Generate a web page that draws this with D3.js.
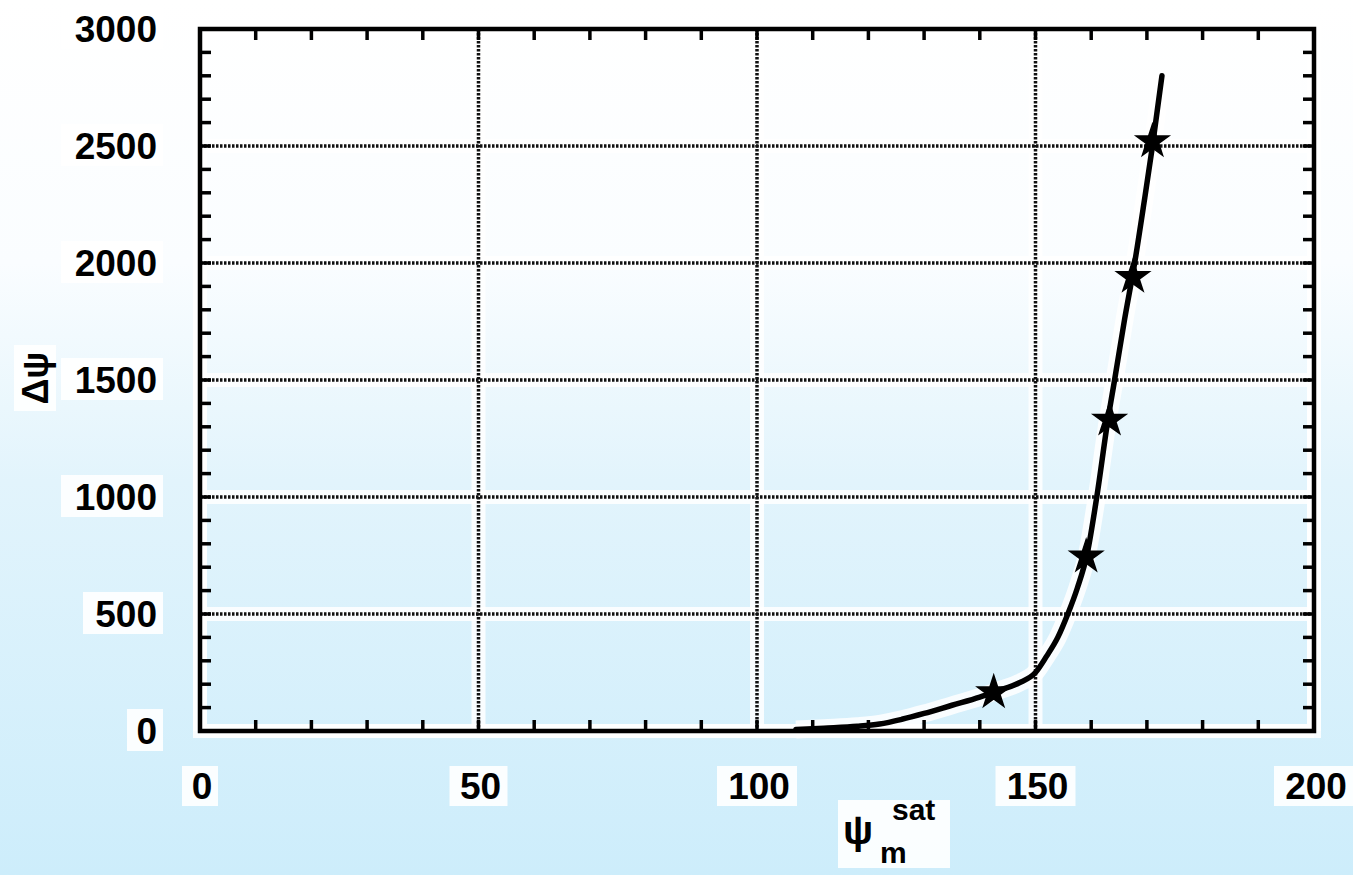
<!DOCTYPE html>
<html>
<head>
<meta charset="utf-8">
<script src="https://cdn.jsdelivr.net/npm/d3@7"></script>
<style>
  html, body { margin: 0; padding: 0; background: #fff; }
</style>
</head>
<body>
<script>
// curve
const curveX = [107, 112, 118, 122, 126, 130, 135, 140, 143, 147, 150, 152, 154, 155.8, 157.5, 159.3, 161, 163, 164.2, 166, 167.8, 169.5, 171, 172.7]
const curveY = [6, 12, 20, 30, 50, 75, 110, 145, 170, 205, 250, 320, 400, 500, 610, 760, 1000, 1330, 1500, 1760, 2000, 2260, 2500, 2800]

// star markers on the curve
const markX = [142.5, 159.1, 163.3, 167.5, 171]
const markY = [165, 745, 1330, 1940, 2520]

const xTicks = [0, 50, 100, 150, 200]
const yTicks = [0, 500, 1000, 1500, 2000, 2500, 3000]

const W = 1353, H = 875
const pLeft = 200, pRight = 1314, pTop = 29, pBottom = 731

const svg = d3.create('svg')
  .attr('width', W)
  .attr('height', H)
  .style('display', 'block')

const defs = svg.append('defs')
const grad = defs.append('linearGradient')
  .attr('id', 'bg')
  .attr('x1', 0).attr('y1', 0).attr('x2', 0).attr('y2', 1)
grad.append('stop').attr('offset', '0%').attr('stop-color', '#ffffff')
grad.append('stop').attr('offset', '30%').attr('stop-color', '#fafdff')
grad.append('stop').attr('offset', '55%').attr('stop-color', '#e2f4fc')
grad.append('stop').attr('offset', '100%').attr('stop-color', '#cdedfb')

svg.append('rect').attr('width', W).attr('height', H).attr('fill', 'url(#bg)')

const x = d3.scaleLinear().domain([0, 200]).range([pLeft, pRight])
const y = d3.scaleLinear().domain([0, 3000]).range([pBottom, pTop])

const font = '"Liberation Sans", Arial, sans-serif'
const pts = curveX.map((v, i) => [v, curveY[i]])
const line = d3.line().x(d => x(d[0])).y(d => y(d[1])).curve(d3.curveMonotoneX)

// white halos the scan leaves round the ink
const halo = svg.append('g').attr('stroke', 'rgba(255,255,255,0.85)').attr('stroke-width', 14).attr('fill', 'none')
xTicks.forEach(v => halo.append('line').attr('x1', x(v)).attr('x2', x(v)).attr('y1', pTop).attr('y2', pBottom))
yTicks.forEach(v => halo.append('line').attr('x1', pLeft).attr('x2', pRight).attr('y1', y(v)).attr('y2', y(v)))
halo.append('rect').attr('x', pLeft).attr('y', pTop).attr('width', pRight - pLeft).attr('height', pBottom - pTop)
halo.append('path').datum(pts).attr('d', line).attr('stroke-width', 18)

// dotted grid
const grid = svg.append('g').attr('stroke', '#111').attr('stroke-width', 3.5).attr('stroke-dasharray', '2.5,1.5')
xTicks.slice(1, -1).forEach(v => grid.append('line').attr('x1', x(v)).attr('x2', x(v)).attr('y1', pTop).attr('y2', pBottom))
yTicks.slice(1, -1).forEach(v => grid.append('line').attr('x1', pLeft).attr('x2', pRight).attr('y1', y(v)).attr('y2', y(v)))

// minor ticks, inward on all four sides
const tk = svg.append('g').attr('stroke', '#000').attr('stroke-width', 3.5)
d3.range(10, 200, 10).forEach(v => {
  tk.append('line').attr('x1', x(v)).attr('x2', x(v)).attr('y1', pBottom).attr('y2', pBottom - 11)
  tk.append('line').attr('x1', x(v)).attr('x2', x(v)).attr('y1', pTop).attr('y2', pTop + 11)
})
d3.range(100, 3000, 100).forEach(v => {
  tk.append('line').attr('x1', pLeft).attr('x2', pLeft + 11).attr('y1', y(v)).attr('y2', y(v))
  tk.append('line').attr('x1', pRight).attr('x2', pRight - 11).attr('y1', y(v)).attr('y2', y(v))
})

// frame
svg.append('rect')
  .attr('x', pLeft).attr('y', pTop)
  .attr('width', pRight - pLeft).attr('height', pBottom - pTop)
  .attr('fill', 'none').attr('stroke', '#000').attr('stroke-width', 4.5)

// curve
svg.append('path').datum(pts)
  .attr('d', line)
  .attr('fill', 'none').attr('stroke', '#000').attr('stroke-width', 5.5).attr('stroke-linecap', 'round')

svg.append('g').selectAll('path')
  .data(markX.map((v, i) => [v, markY[i]]))
  .join('path')
  .attr('transform', d => `translate(${x(d[0])},${y(d[1])})`)
  .attr('d', d3.symbol(d3.symbolStar, 330))
  .attr('fill', '#000')
  .attr('stroke', '#000')
  .attr('stroke-width', 1.5)

// tick labels with white patches behind them
const labels = svg.append('g').attr('font-family', font).attr('font-weight', 'bold').attr('font-size', 37).attr('fill', '#000')
yTicks.forEach(v => {
  labels.append('rect').attr('x', 155 - 22 * String(v).length - 6).attr('y', y(v) - 22)
    .attr('width', 22 * String(v).length + 14).attr('height', 42).attr('fill', 'rgba(255,255,255,0.9)')
  labels.append('text').attr('x', 157).attr('y', y(v)).attr('dy', '0.35em').attr('text-anchor', 'end').text(v)
})
xTicks.forEach(v => {
  const w = 22 * String(v).length
  labels.append('rect').attr('x', x(v) - w / 2 - 7).attr('y', 766).attr('width', w + 14).attr('height', 40)
    .attr('fill', 'rgba(255,255,255,0.9)')
  labels.append('text').attr('x', x(v) + 2).attr('y', 799).attr('text-anchor', 'middle').text(v)
})

// axis titles
const title = svg.append('g').attr('font-family', font).attr('font-weight', 'bold').attr('fill', '#000')
title.append('rect').attr('x', 838).attr('y', 800).attr('width', 112).attr('height', 68).attr('fill', 'rgba(255,255,255,0.9)')
title.append('text').attr('x', 858).attr('y', 844).attr('text-anchor', 'middle').attr('font-size', 40).text('ψ')
title.append('text').attr('x', 892).attr('y', 820).attr('font-size', 30).text('sat')
title.append('text').attr('x', 880).attr('y', 863).attr('font-size', 30).text('m')

title.append('rect').attr('x', 14).attr('y', 345).attr('width', 42).attr('height', 66).attr('fill', 'rgba(255,255,255,0.9)')
title.append('text')
  .attr('transform', 'translate(48,378) rotate(-90)')
  .attr('text-anchor', 'middle')
  .attr('font-size', 36)
  .text('Δψ')

document.body.appendChild(svg.node())
</script>
</body>
</html>
